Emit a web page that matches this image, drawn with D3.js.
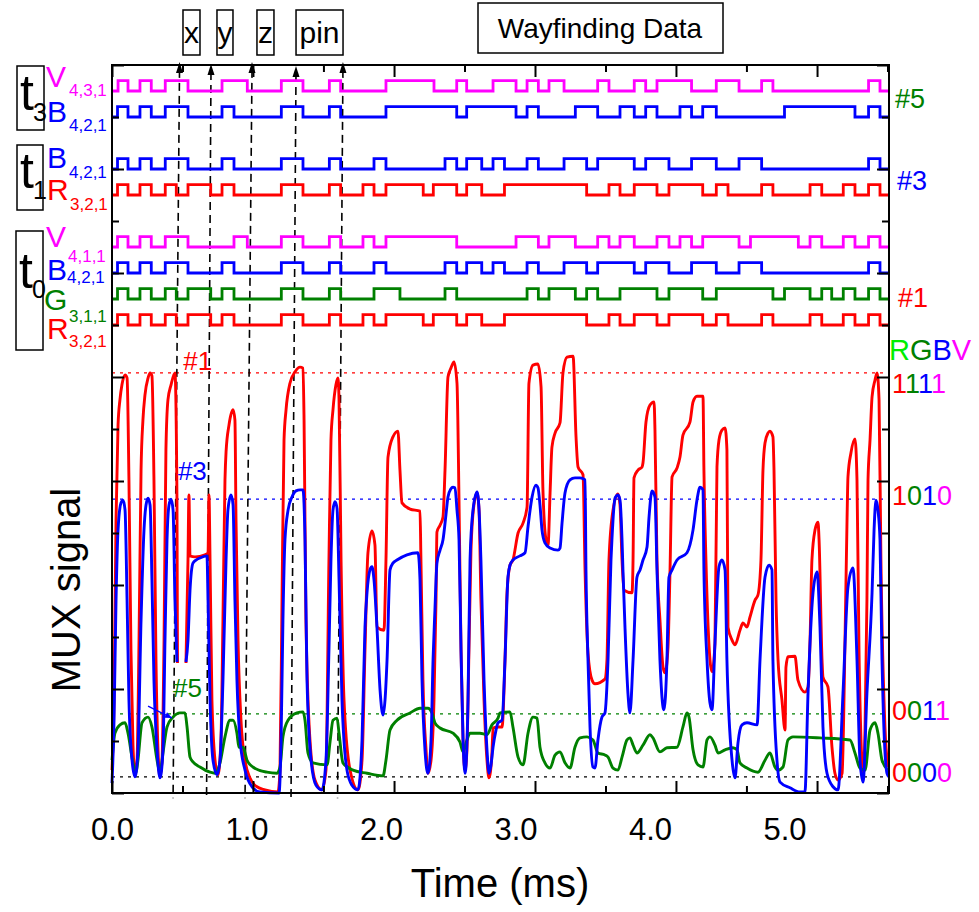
<!DOCTYPE html>
<html><head><meta charset="utf-8">
<script src="https://cdn.jsdelivr.net/npm/d3@7"></script>
<style>
body{margin:0;background:#fff}
text{font-family:"Liberation Sans",Arial,Helvetica,sans-serif}
</style></head>
<body><svg id="c" width="979" height="912"></svg>
<script>
// ---------------- DATA ----------------
// time axis in ms, signal axis in arbitrary units (0..14)
const xTickLabels = ["0.0","1.0","2.0","3.0","4.0","5.0"];
const xLabelValues = [0,1,2,3,4,5];
const xMajorTicks = [0,1.048,2.097,3.145,4.193,5.242];
const xMinorTicks = [0.524,1.572,2.621,3.669,4.717,5.766];
const yMajorTicks = [0,2,4,6,8,10,12,14];
const yMinorTicks = [1,3,5,7,9,11,13];

// digital MUX traces: baseline level and toggle times (ms), each starts low
const traceNames  = ["V431_t3","B421_t3","B421_t1","R321_t1","V411_t0","B421_t0","G311_t0","R321_t0"];
const traceBase   = [13.5,13.0,12.0,11.5,10.5,10.0,9.5,9.0];
const traceColors = ["#ff00ff","#0000ff","#0000ff","#ff0000","#ff00ff","#0000ff","#008000","#ff0000"];
const edgesV431t3 = [0.045,0.119,0.208,0.292,0.396,0.565,0.818,1.006,1.259,1.42,1.616,1.7,2.037,2.394,2.563,2.637,2.833,3.004,3.086,3.17,3.249,3.361,3.611,3.695,3.883,3.968,4.052,4.309,4.493,4.662,4.83,4.914,5.625,5.71];
const edgesB421t3 = [0.041,0.119,0.208,0.292,0.396,0.565,0.818,0.907,1.259,1.42,1.616,1.7,2.037,2.563,2.637,3.004,3.086,3.17,3.445,3.611,3.777,3.883,3.968,4.052,4.223,4.309,4.392,4.493,5.0,5.524,5.625,5.71];
const edgesB421t1 = [0.041,0.119,0.208,0.292,0.396,0.565,0.818,0.907,1.259,1.42,1.616,1.7,1.948,2.037,2.476,2.563,2.637,2.749,2.833,2.918,3.086,3.17,3.361,3.529,3.611,3.883,3.968,4.141,4.309,4.493,4.662,4.83,5.625,5.71];
const edgesR321t1 = [0.041,0.119,0.208,0.292,0.396,0.478,0.565,0.734,0.818,0.907,1.259,1.42,1.616,1.7,1.866,1.948,2.037,2.314,2.389,2.563,2.637,2.749,2.918,3.529,3.695,3.777,3.883,4.052,4.141,4.392,4.493,4.58,4.83,4.914,5.19,5.277,5.437,5.524,5.625,5.71];
const edgesV411t0 = [0.041,0.119,0.208,0.292,0.396,0.565,0.907,1.006,1.259,1.42,1.616,1.7,1.866,1.948,2.037,2.563,3.004,3.17,3.249,3.445,3.611,3.695,3.777,3.883,4.052,4.141,4.223,4.309,4.392,4.662,4.747,5.103,5.19,5.277,5.437,5.524,5.625,5.71];
const edgesB421t0 = [0.041,0.119,0.208,0.292,0.396,0.565,0.818,0.907,1.259,1.42,1.616,1.7,1.948,2.037,2.476,2.563,2.637,2.749,2.833,2.918,3.086,3.17,3.361,3.529,3.611,3.883,3.968,4.141,4.309,4.493,4.662,4.83,5.625,5.71];
const edgesG311t0 = [0.041,0.119,0.208,0.292,0.396,0.478,0.565,0.734,0.818,0.907,1.259,1.42,1.616,1.7,1.948,2.141,2.476,2.563,3.086,3.17,3.249,3.445,3.529,3.611,3.777,4.052,4.141,4.392,4.493,4.914,5.0,5.19,5.277,5.351,5.437,5.524,5.625,5.71];
const edgesR321t0 = [0.041,0.119,0.208,0.292,0.396,0.478,0.565,0.734,0.818,0.907,1.259,1.42,1.616,1.7,1.866,1.948,2.037,2.314,2.389,2.563,2.637,2.749,2.918,3.529,3.695,3.777,3.883,4.052,4.141,4.392,4.493,4.58,4.83,4.914,5.19,5.277,5.437,5.524,5.625,5.71];
const traceEdges = [edgesV431t3,edgesB421t3,edgesB421t1,edgesR321t1,edgesV411t0,edgesB421t0,edgesG311t0,edgesR321t0];

// analog MUX signal (time ms, level); null = gap
const redSignal = [[0,0.44],[0.015,1.79],[0.030,5.25],[0.045,7.08],[0.059,7.56],[0.074,7.85],[0.097,8.04],[0.112,7.98],[0.126,6.02],[0.141,2.75],[0.156,0.92],[0.171,0.38],[0.186,0.63],[0.201,2.94],[0.216,6.21],[0.230,7.17],[0.245,7.65],[0.268,7.98],[0.283,8.08],[0.297,8.02],[0.312,6.02],[0.327,2.56],[0.342,0.83],[0.357,0.31],[0.372,0.63],[0.387,2.94],[0.401,6.6],[0.416,7.56],[0.439,7.85],[0.468,8.08],[0.483,5.63],[0.487,2.5],null,[0.550,2.5],[0.565,4.48],[0.572,5.73],[0.580,4.56],[0.617,4.54],[0.691,4.58],[0.714,4.62],[0.721,5.73],[0.729,4.48],[0.743,1.79],[0.766,0.63],[0.788,0.35],[0.810,1.02],[0.825,3.33],[0.840,6.02],[0.848,6.56],[0.870,7.08],[0.900,7.37],[0.914,7.17],[0.922,5.25],[0.937,2.94],[0.959,1.4],[0.989,0.63],[1.026,0.29],[1.071,0.13],[1.138,0.06],[1.234,0.02],[1.249,0.44],[1.264,3.71],[1.279,6.79],[1.294,7.37],[1.323,7.88],[1.361,8.1],[1.398,8.19],[1.420,8.17],[1.428,7.17],[1.442,3.33],[1.472,1.02],[1.509,0.25],[1.561,0.06],[1.591,0.44],[1.613,4.48],[1.628,6.79],[1.643,7.37],[1.665,7.85],[1.680,7.98],[1.688,7.56],[1.703,4.48],[1.725,1.79],[1.770,0.44],[1.829,0.06],[1.859,0.63],[1.881,2.75],[1.903,4.62],[1.933,5.04],[1.955,4.77],[1.970,3.19],[2.022,3.13],[2.037,4.48],[2.052,6.46],[2.089,6.85],[2.126,6.96],[2.141,6.21],[2.156,5.58],[2.216,5.46],[2.290,5.42],[2.297,4.48],[2.312,2.17],[2.335,0.83],[2.349,0.38],[2.372,0.63],[2.394,1.79],[2.409,3.71],[2.416,5.02],[2.439,5.15],[2.461,5.31],[2.476,6.21],[2.498,8.0],[2.520,8.17],[2.543,8.29],[2.565,7.88],[2.580,5.63],[2.595,2.75],[2.610,1.02],[2.625,0.44],[2.639,0.83],[2.654,2.75],[2.669,4.67],[2.691,5.54],[2.714,5.77],[2.729,5.44],[2.743,3.71],[2.766,1.79],[2.788,0.63],[2.803,0.29],[2.825,0.77],[2.833,1.25],[2.870,1.27],[2.900,1.27],[2.922,2.56],[2.937,3.85],[2.959,4.38],[2.981,4.48],[3.019,5.0],[3.056,5.19],[3.086,5.5],[3.100,7.88],[3.130,8.23],[3.167,8.25],[3.190,7.81],[3.204,5.83],[3.227,4.87],[3.242,4.77],[3.257,5.77],[3.271,6.65],[3.294,6.92],[3.331,7.12],[3.353,8.08],[3.383,8.38],[3.428,8.4],[3.450,6.85],[3.465,6.27],[3.502,6.12],[3.517,4.29],[3.539,2.69],[3.569,2.17],[3.591,2.1],[3.665,2.19],[3.680,2.56],[3.695,4.48],[3.725,5.44],[3.762,5.75],[3.777,5.54],[3.792,4.48],[3.807,3.9],[3.866,3.85],[3.874,4.48],[3.881,6.06],[3.911,6.21],[3.941,6.27],[3.948,6.35],[3.970,7.13],[4.000,7.46],[4.030,7.52],[4.037,6.98],[4.052,4.48],[4.074,3.33],[4.097,2.42],[4.112,2.31],[4.134,2.81],[4.149,4.29],[4.164,6.08],[4.201,6.25],[4.223,6.46],[4.245,6.88],[4.297,7.13],[4.320,7.52],[4.349,7.63],[4.394,7.63],[4.401,6.21],[4.416,4.48],[4.446,2.56],[4.461,2.33],[4.483,2.88],[4.498,6.27],[4.513,6.79],[4.535,6.98],[4.558,7.02],[4.572,6.6],[4.580,3.19],[4.610,2.94],[4.632,2.85],[4.669,3.13],[4.691,3.27],[4.721,3.19],[4.743,3.38],[4.781,3.71],[4.803,3.81],[4.825,4.48],[4.840,6.21],[4.855,6.73],[4.877,6.92],[4.892,6.96],[4.914,6.85],[4.922,6.21],[4.937,3.71],[4.952,2.56],[4.981,1.79],[5.004,1.21],[5.011,2.42],[5.026,2.62],[5.078,2.63],[5.100,2.17],[5.152,1.94],[5.175,2.04],[5.190,2.94],[5.204,4.48],[5.227,5.06],[5.249,5.21],[5.257,4.87],[5.279,2.56],[5.286,2.23],[5.323,2.04],[5.353,0.88],[5.375,0.38],[5.398,0.25],[5.428,0.38],[5.450,2.94],[5.465,5.25],[5.472,6.08],[5.494,6.54],[5.524,6.81],[5.539,6.02],[5.554,2.75],[5.569,1.02],[5.584,0.38],[5.599,1.27],[5.613,3.71],[5.621,6.02],[5.636,6.79],[5.651,7.62],[5.673,7.94],[5.688,8.08],[5.703,7.56],[5.717,4.48],[5.747,1.27],[5.770,0.5]];

const blueSignal = [[0,0.19],[0.015,1.4],[0.030,3.71],[0.045,5.06],[0.067,5.58],[0.082,5.63],[0.097,5.44],[0.112,3.71],[0.126,1.79],[0.149,0.63],[0.171,0.31],[0.193,0.83],[0.216,3.33],[0.238,5.06],[0.253,5.54],[0.268,5.67],[0.283,5.54],[0.297,4.1],[0.312,2.17],[0.335,0.83],[0.357,0.29],[0.379,0.83],[0.394,2.94],[0.409,4.87],[0.424,5.54],[0.439,5.65],[0.454,5.44],[0.468,3.71],[0.483,2.52],null,[0.550,2.52],[0.565,2.94],[0.580,3.9],[0.602,4.42],[0.625,4.48],[0.654,4.52],[0.706,4.56],[0.714,3.71],[0.729,1.79],[0.751,0.63],[0.781,0.35],[0.803,0.63],[0.825,2.17],[0.848,4.48],[0.862,5.44],[0.885,5.73],[0.900,5.54],[0.914,3.71],[0.929,2.17],[0.952,1.02],[0.989,0.44],[1.041,0.12],[1.100,0.02],[1.242,0],[1.257,1.02],[1.271,3.33],[1.286,4.87],[1.309,5.44],[1.338,5.69],[1.368,5.81],[1.398,5.83],[1.420,5.83],[1.435,4.87],[1.450,2.17],[1.480,0.63],[1.517,0.15],[1.561,0.06],[1.591,0.63],[1.613,2.75],[1.628,4.48],[1.643,5.44],[1.658,5.6],[1.673,5.48],[1.688,4.1],[1.710,1.79],[1.747,0.44],[1.784,0.15],[1.829,0.06],[1.859,1.02],[1.881,3.19],[1.896,3.85],[1.918,4.29],[1.933,4.35],[1.948,4.1],[1.970,3.19],[1.993,1.98],[2.015,1.5],[2.030,1.79],[2.045,2.56],[2.067,4.29],[2.089,4.42],[2.119,4.48],[2.193,4.58],[2.275,4.62],[2.290,4.1],[2.305,2.17],[2.327,0.83],[2.349,0.38],[2.372,1.02],[2.387,2.56],[2.401,3.52],[2.416,4.42],[2.439,4.67],[2.461,4.87],[2.483,5.35],[2.498,5.69],[2.520,5.85],[2.535,5.88],[2.550,5.87],[2.565,5.44],[2.580,4.87],[2.595,2.75],[2.610,1.02],[2.625,0.38],[2.647,1.79],[2.662,4.48],[2.684,5.44],[2.714,5.79],[2.729,5.44],[2.743,4.48],[2.766,2.17],[2.788,0.83],[2.803,0.38],[2.818,0.54],[2.833,0.88],[2.855,1.21],[2.870,1.35],[2.900,1.4],[2.922,2.56],[2.944,4.15],[2.959,4.38],[2.981,4.48],[3.033,4.56],[3.071,4.62],[3.093,5.12],[3.123,5.69],[3.152,5.92],[3.167,5.87],[3.182,5.54],[3.197,5.06],[3.219,4.81],[3.257,4.71],[3.316,4.67],[3.331,4.71],[3.346,5.19],[3.368,5.77],[3.405,6.02],[3.442,6.06],[3.480,6.06],[3.517,6.02],[3.524,4.29],[3.539,2.56],[3.554,1.27],[3.576,0.5],[3.591,0.48],[3.613,1.02],[3.643,1.46],[3.665,1.54],[3.688,2.56],[3.710,4.48],[3.717,4.87],[3.740,5.67],[3.762,5.73],[3.777,5.63],[3.792,4.87],[3.799,4.29],[3.814,3.19],[3.836,1.92],[3.851,1.54],[3.874,2.56],[3.903,4.15],[3.926,4.29],[3.948,4.48],[3.978,4.73],[3.993,5.31],[4.015,5.81],[4.037,5.69],[4.052,4.29],[4.074,2.56],[4.097,1.65],[4.104,1.6],[4.126,2.56],[4.141,4.15],[4.164,4.29],[4.201,4.48],[4.275,4.62],[4.320,5.06],[4.349,5.63],[4.372,5.88],[4.394,5.83],[4.401,4.29],[4.424,2.56],[4.446,1.73],[4.461,1.6],[4.483,2.88],[4.513,4.35],[4.535,4.48],[4.558,4.29],[4.572,2.56],[4.610,0.63],[4.632,0.29],[4.654,0.96],[4.684,1.31],[4.721,1.35],[4.796,1.31],[4.818,2.56],[4.855,4.15],[4.885,4.38],[4.907,4.29],[4.914,2.56],[4.944,0.63],[4.967,0.21],[5.041,0.1],[5.115,0.02],[5.152,0.02],[5.175,1.92],[5.212,3.85],[5.242,4.25],[5.264,3.19],[5.286,1.27],[5.316,0.38],[5.361,0.12],[5.398,0.06],[5.435,1.92],[5.472,3.96],[5.509,4.33],[5.539,2.56],[5.561,0.63],[5.584,0.21],[5.613,1.92],[5.651,3.85],[5.666,5.06],[5.680,5.63],[5.695,5.44],[5.710,4.87],[5.725,2.56],[5.762,0.38],[5.777,0.31]];

const greenSignal = [[0,0.63],[0.022,1.15],[0.059,1.31],[0.097,1.35],[0.119,1.15],[0.156,0.58],[0.178,0.38],[0.193,0.63],[0.223,1.35],[0.268,1.46],[0.297,1.27],[0.335,0.63],[0.357,0.38],[0.379,0.77],[0.409,1.27],[0.454,1.46],[0.506,1.54],[0.543,1.54],[0.558,1.27],[0.580,0.69],[0.602,0.6],[0.654,0.5],[0.729,0.4],[0.766,0.38],[0.803,0.58],[0.840,1.08],[0.877,1.4],[0.900,1.4],[0.929,1.15],[0.944,0.88],[0.974,0.88],[1.004,0.63],[1.048,0.5],[1.152,0.4],[1.227,0.38],[1.249,0.5],[1.271,1.08],[1.309,1.4],[1.375,1.54],[1.420,1.56],[1.435,1.4],[1.457,0.77],[1.494,0.58],[1.599,0.54],[1.621,0.98],[1.643,1.4],[1.673,1.44],[1.688,1.15],[1.717,0.58],[1.792,0.44],[1.896,0.38],[2.015,0.33],[2.037,0.63],[2.067,1.21],[2.119,1.4],[2.216,1.54],[2.290,1.63],[2.349,1.63],[2.379,1.54],[2.401,1.35],[2.439,1.25],[2.535,1.15],[2.587,0.98],[2.610,0.79],[2.639,1.02],[2.662,1.15],[2.736,1.15],[2.788,1.12],[2.825,1.31],[2.870,1.44],[2.885,1.54],[2.959,1.56],[2.981,1.27],[3.019,0.69],[3.056,0.54],[3.093,1.15],[3.130,1.46],[3.160,1.44],[3.182,0.88],[3.219,0.58],[3.257,0.48],[3.294,0.73],[3.331,0.79],[3.368,0.58],[3.405,0.48],[3.442,0.88],[3.480,1.06],[3.532,1.08],[3.576,1.02],[3.613,0.77],[3.665,0.73],[3.688,0.69],[3.725,0.48],[3.762,0.44],[3.792,0.69],[3.829,1.02],[3.851,1.06],[3.874,0.92],[3.903,0.77],[3.948,0.92],[4.000,1.12],[4.022,1.06],[4.074,0.79],[4.126,0.87],[4.201,0.88],[4.245,1.27],[4.275,1.54],[4.290,1.46],[4.320,0.83],[4.357,0.54],[4.394,0.5],[4.424,1.02],[4.446,1.08],[4.483,0.92],[4.506,0.77],[4.558,0.83],[4.617,0.87],[4.647,0.83],[4.669,0.58],[4.721,0.48],[4.803,0.4],[4.855,0.63],[4.892,0.77],[4.929,0.5],[4.952,0.44],[4.989,0.5],[5.026,1.02],[5.063,1.08],[5.264,1.06],[5.487,1.02],[5.524,0.77],[5.561,0.48],[5.599,0.44],[5.636,1.21],[5.673,1.35],[5.695,1.15],[5.725,0.63],[5.770,0.44]];

// reference code levels
const refCodes  = ["1111","1010","0011","0000"];
const refLevels = [8.08,5.65,1.52,0.31];
const refColors = ["#ff0000","#0000ff","#008000","#000000"];
const refTextLevels = [7.69,5.54,1.40,0.21];
const codeColors = ["#ff0000","#008000","#0000ff","#ff00ff"];

// marker lines (x, y, z, pin)
const markerLabels = ["x","y","z","pin"];
const markerLabelT = [0.591,0.840,1.141,1.543];
const markerTopT = [0.502,0.736,1.041,1.368,1.717];
const markerBottomT = [0.454,0.703,0.989,1.331,1.677];
const markerTopV = [14.06,14.02,14.06,13.98,14.06];

// ---------------- DRAW ----------------
const svg = d3.select("#c");
const x = d3.scaleLinear().domain([0,5.777]).range([112,889]);
const y = d3.scaleLinear().domain([0,14]).range([793,65]);
const FONT = '"Liberation Sans",Arial,sans-serif';

// reference dotted lines
refLevels.forEach((v,i)=>{
  svg.append("line").attr("x1",x(0)).attr("x2",x(5.777)).attr("y1",y(v)).attr("y2",y(v))
    .attr("stroke",refColors[i]).attr("stroke-width",1.3).attr("stroke-dasharray","3,5");
});

// dashed marker lines with arrow heads
markerTopT.forEach((t,i)=>{
  const x1=x(t), y1=y(markerTopV[i]), x2=x(markerBottomT[i]), y2=y(-0.1);
  svg.append("line").attr("x1",x1).attr("y1",y1+8).attr("x2",x2).attr("y2",y2)
    .attr("stroke","#000").attr("stroke-width",1.6).attr("stroke-dasharray","8,5");
  svg.append("path").attr("d",`M${x1},${y1} L${x1-3.5},${y1+11} L${x1+3.5},${y1+11} Z`).attr("fill","#000");
});

// analog signals
const aLine = d3.line().defined(d=>d!==null).x(d=>x(d[0])).y(d=>y(d[1])).curve(d3.curveMonotoneX);
[[redSignal,"#ff0000"],[greenSignal,"#008000"],[blueSignal,"#0000ff"]].forEach(([data,c])=>{
  svg.append("path").attr("d",aLine(data)).attr("fill","none").attr("stroke",c).attr("stroke-width",2.9).attr("stroke-linejoin","round");
});

// digital traces
const pulseHeight = 0.2;
const dLine = d3.line().x(d=>x(d[0])).y(d=>y(d[1]));
traceEdges.forEach((edges,i)=>{
  const base = traceBase[i]; let s=0; const pts=[[0,base]];
  edges.forEach(e=>{ pts.push([e,base+s*pulseHeight]); s=1-s; pts.push([e,base+s*pulseHeight]); });
  pts.push([5.777,base+s*pulseHeight]);
  svg.append("path").attr("d",dLine(pts)).attr("fill","none").attr("stroke",traceColors[i]).attr("stroke-width",2.8).attr("stroke-linejoin","miter");
});

// frame
svg.append("rect").attr("x",x(0)).attr("y",y(14)).attr("width",x(5.777)-x(0)).attr("height",y(0)-y(14))
  .attr("fill","none").attr("stroke","#000").attr("stroke-width",2);

// ticks
function ticks(axisGen, vals, size, tr){
  const g = svg.append("g").attr("transform",tr)
    .call(axisGen.tickValues(vals).tickSizeInner(size).tickSizeOuter(0).tickFormat(""));
  g.select(".domain").remove();
  g.selectAll("line").attr("stroke","#000").attr("stroke-width",2);
}
ticks(d3.axisBottom(x), xMajorTicks, -12, `translate(0,${y(0)})`);
ticks(d3.axisBottom(x), xMinorTicks, -7, `translate(0,${y(0)})`);
ticks(d3.axisTop(x), xMajorTicks, -12, `translate(0,${y(14)})`);
ticks(d3.axisTop(x), xMinorTicks, -7, `translate(0,${y(14)})`);
ticks(d3.axisLeft(y), yMajorTicks, -12, `translate(${x(0)},0)`);
ticks(d3.axisLeft(y), yMinorTicks, -7, `translate(${x(0)},0)`);
ticks(d3.axisRight(y), yMajorTicks, -12, `translate(${x(5.777)},0)`);
ticks(d3.axisRight(y), yMinorTicks, -7, `translate(${x(5.777)},0)`);

// tick labels
const lab = svg.append("g").attr("transform",`translate(0,${y(0)})`)
  .call(d3.axisBottom(x).tickValues(xLabelValues).tickSize(0).tickPadding(25).tickFormat((d,i)=>xTickLabels[i]));
lab.select(".domain").remove();
lab.selectAll("text").attr("font-size",31).attr("font-family",FONT).attr("fill","#000");

// axis titles
svg.append("text").attr("x",500).attr("y",897).attr("text-anchor","middle").attr("font-size",40).text("Time (ms)");
svg.append("text").attr("transform","translate(80,590) rotate(-90)").attr("text-anchor","middle").attr("font-size",40).text("MUX signal");

// right side code labels
const hdr = svg.append("text").attr("x",889).attr("y",360).attr("font-size",29);
["R","G","B","V"].forEach((ch,i)=>hdr.append("tspan").attr("fill",["#00ee00","#008000","#0000ff","#ff00ff"][i]).text(ch));
refCodes.forEach((code,k)=>{
  const t = svg.append("text").attr("x",892).attr("y",y(refTextLevels[k])).attr("font-size",27);
  code.split("").forEach((ch,i)=>t.append("tspan").attr("fill",codeColors[i]).text(ch));
});
// right side channel tags
[["#5","#008000",895,108],["#3","#0000ff",897,190],["#1","#ff0000",898,307]].forEach(d=>{
  svg.append("text").attr("x",d[2]).attr("y",d[3]).attr("font-size",27).attr("fill",d[1]).text(d[0]);
});

// inner tags
svg.append("text").attr("x",x(0.53)).attr("y",y(8.13)).attr("font-size",26).attr("fill","#ff0000").text("#1");
svg.append("text").attr("x",x(0.49)).attr("y",y(6.02)).attr("font-size",26).attr("fill","#0000ff").text("#3");
svg.append("text").attr("x",x(0.454)).attr("y",y(1.85)).attr("font-size",26).attr("fill","#008000").text("#5");
// small blue arrow to #5 peak
{
  const x1=x(0.268), y1=y(1.67), x2=x(0.446), y2=y(1.44);
  svg.append("line").attr("x1",x1).attr("y1",y1).attr("x2",x2).attr("y2",y2).attr("stroke","#0000ff").attr("stroke-width",1.2);
  const a=Math.atan2(y2-y1,x2-x1), L=7, w=3;
  svg.append("path").attr("d",`M${x2},${y2} L${x2-L*Math.cos(a)+w*Math.sin(a)},${y2-L*Math.sin(a)-w*Math.cos(a)} L${x2-L*Math.cos(a)-w*Math.sin(a)},${y2-L*Math.sin(a)+w*Math.cos(a)} Z`).attr("fill","#0000ff");
}

// marker label boxes
const boxW = [17,16,17,47];
markerLabels.forEach((m,i)=>{
  const cx = x(markerLabelT[i]);
  svg.append("rect").attr("x",cx-boxW[i]/2).attr("y",10).attr("width",boxW[i]).attr("height",45).attr("fill","#fff").attr("stroke","#000").attr("stroke-width",1.5);
  svg.append("text").attr("x",cx).attr("y",43).attr("text-anchor","middle").attr("font-size",30).text(m);
});
svg.append("rect").attr("x",478).attr("y",3).attr("width",245).attr("height",50).attr("fill","#fff").attr("stroke","#000").attr("stroke-width",1.5);
svg.append("text").attr("x",600).attr("y",38).attr("text-anchor","middle").attr("font-size",28).text("Wayfinding Data");

// left group labels
const groups = [
  {t:"3", box:[17,66,27,64], ty:110, sy:121},
  {t:"1", box:[17,145,26,65], ty:188, sy:199},
  {t:"0", box:[16,231,27,119], ty:288, sy:298}
];
groups.forEach(g=>{
  svg.append("rect").attr("x",g.box[0]).attr("y",g.box[1]).attr("width",g.box[2]).attr("height",g.box[3]).attr("fill","none").attr("stroke","#000").attr("stroke-width",1.5);
  svg.append("text").attr("x",g.box[0]+3).attr("y",g.ty).attr("font-size",50).text("t");
  svg.append("text").attr("x",g.box[0]+16).attr("y",g.sy).attr("font-size",25).text(g.t);
});
const chanLabels = [
  ["V","4,3,1","#ff00ff",46,87,69,96],
  ["B","4,2,1","#0000ff",47,122,69,131],
  ["B","4,2,1","#0000ff",47,168,69,178],
  ["R","3,2,1","#ff0000",47,200,70,210],
  ["V","4,1,1","#ff00ff",46,247,68,262],
  ["B","4,2,1","#0000ff",47,280,67,283],
  ["G","3,1,1","#008000",44,310,69,322],
  ["R","3,2,1","#ff0000",47,339,69,347]
];
chanLabels.forEach(d=>{
  svg.append("text").attr("x",d[3]).attr("y",d[4]).attr("font-size",30).attr("fill",d[2]).text(d[0]);
  svg.append("text").attr("x",d[5]).attr("y",d[6]).attr("font-size",17).attr("fill",d[2]).text(d[1]);
});
</script>
</body></html>
